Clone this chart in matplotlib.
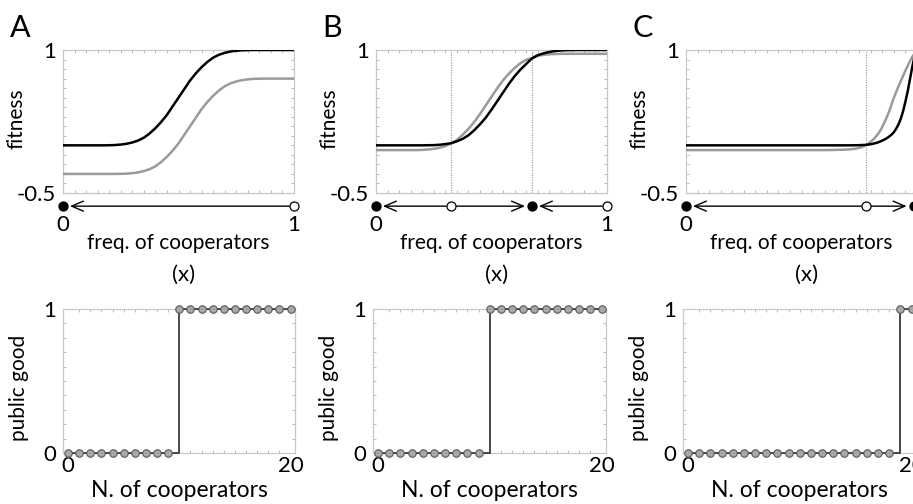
import matplotlib
matplotlib.use("Agg")
import matplotlib.pyplot as plt
from matplotlib.ticker import MultipleLocator, NullFormatter

plt.rcParams['font.family'] = ['Lato', 'DejaVu Sans']

# ---------------- data ----------------
x_grid = [0.0, 0.025, 0.05, 0.075, 0.1, 0.125, 0.15, 0.175, 0.2, 0.225,
          0.25, 0.275, 0.3, 0.325, 0.35, 0.375, 0.4, 0.425, 0.45, 0.475,
          0.5, 0.525, 0.55, 0.575, 0.6, 0.625, 0.65, 0.675, 0.7, 0.725,
          0.75, 0.775, 0.8, 0.825, 0.85, 0.875, 0.9, 0.925, 0.95, 0.975, 1.0]

fit_A_black = [0, 0, 0, 0, 0, 0, 0, 0, 0.001, 0.003,
               0.008, 0.016, 0.03, 0.05, 0.08, 0.125, 0.18, 0.245, 0.32, 0.41,
               0.5, 0.59, 0.68, 0.755, 0.82, 0.875, 0.92, 0.95, 0.97, 0.984,
               0.992, 0.997, 0.999, 1, 1, 1, 1, 1, 1, 1, 1]
fit_A_gray = [-0.3, -0.3, -0.3, -0.3, -0.3, -0.3, -0.3, -0.3, -0.3, -0.3,
              -0.299, -0.297, -0.292, -0.284, -0.27, -0.25, -0.22, -0.175, -0.12, -0.055,
              0.02, 0.11, 0.2, 0.29, 0.38, 0.455, 0.52, 0.575, 0.62, 0.65,
              0.67, 0.684, 0.692, 0.697, 0.699, 0.7, 0.7, 0.7, 0.7, 0.7, 0.7]

fit_B_black = [0, 0, 0, 0, 0, 0, 0, 0, 0, 0.001,
               0.002, 0.006, 0.013, 0.022, 0.042, 0.068, 0.105, 0.158, 0.22, 0.29,
               0.374, 0.464, 0.554, 0.644, 0.725, 0.794, 0.853, 0.912, 0.945, 0.965,
               0.979, 0.989, 0.995, 0.998, 0.999, 1, 1, 1, 1, 1, 1]
fit_B_gray = [-0.05, -0.05, -0.05, -0.05, -0.05, -0.05, -0.05, -0.05, -0.048, -0.044,
              -0.037, -0.026, -0.008, 0.022, 0.056, 0.11, 0.172, 0.243, 0.328, 0.419,
              0.51, 0.6, 0.682, 0.752, 0.812, 0.861, 0.897, 0.914, 0.939, 0.949,
              0.955, 0.958, 0.96, 0.96, 0.96, 0.96, 0.96, 0.96, 0.96, 0.96, 0.96]

x_C = [0.0, 0.1, 0.2, 0.3, 0.4, 0.5, 0.6, 0.65, 0.7, 0.72, 0.74, 0.76, 0.78, 0.79,
       0.8, 0.81, 0.82, 0.83, 0.84, 0.85, 0.86, 0.87, 0.88, 0.89,
       0.9, 0.91, 0.92, 0.93, 0.94, 0.95, 0.96, 0.97, 0.98, 0.99, 1.0]
fit_C_black = [0, 0, 0, 0, 0, 0, 0, 0, 0, 0.0005, 0.001, 0.003, 0.005, 0.008,
               0.012, 0.017, 0.023, 0.03, 0.039, 0.05, 0.062, 0.076, 0.093, 0.113,
               0.138, 0.175, 0.22, 0.28, 0.36, 0.46, 0.57, 0.7, 0.83, 0.94, 1.0]
fit_C_gray = [-0.05, -0.05, -0.05, -0.05, -0.05, -0.05, -0.05, -0.048, -0.044, -0.04, -0.033, -0.02, 0.005, 0.02,
              0.04, 0.06, 0.085, 0.115, 0.15, 0.195, 0.245, 0.3, 0.36, 0.43,
              0.5, 0.56, 0.62, 0.675, 0.73, 0.785, 0.835, 0.885, 0.93, 0.965, 0.99]

# equilibria: (position, stable?)
eq_A = [(0.0, True), (1.0, False)]
eq_B = [(0.0, True), (0.325, False), (0.675, True), (1.0, False)]
eq_C = [(0.0, True), (0.78, False), (0.985, True)]
# arrows: (from, to)
arr_A = [(1.0, 0.0)]
arr_B = [(0.325, 0.0), (0.325, 0.675), (1.0, 0.675)]
arr_C = [(0.78, 0.0), (0.78, 0.985)]
dotted_B = [0.325, 0.675]
dotted_C = [0.78, 0.985]

n_coop = list(range(21))
good_A = [0, 0, 0, 0, 0, 0, 0, 0, 0, 0, 1, 1, 1, 1, 1, 1, 1, 1, 1, 1, 1]
good_B = [0, 0, 0, 0, 0, 0, 0, 0, 0, 0, 1, 1, 1, 1, 1, 1, 1, 1, 1, 1, 1]
good_C = [0, 0, 0, 0, 0, 0, 0, 0, 0, 0, 0, 0, 0, 0, 0, 0, 0, 0, 0, 1, 1]

panel_letters = ['A', 'B', 'C']
top_xticklabels = [['0', '1'], ['0', '1'], ['0', '']]

# ---------------- figure ----------------
W, H = 913, 504
fig = plt.figure(figsize=(W / 100, H / 100), dpi=100)

FS = 15
TFS = 16
frame_col = '#c8c8c8'


def px_axes(x0, y0, x1, y1):
    return fig.add_axes([x0 / W, 1 - y1 / H, (x1 - x0) / W, (y1 - y0) / H])


def style(ax, xminor, yminor):
    for s in ax.spines.values():
        s.set_color(frame_col)
        s.set_linewidth(0.9)
    ax.xaxis.set_minor_locator(MultipleLocator(xminor))
    ax.yaxis.set_minor_locator(MultipleLocator(yminor))
    ax.xaxis.set_minor_formatter(NullFormatter())
    ax.yaxis.set_minor_formatter(NullFormatter())
    ax.tick_params(which='minor', direction='in', length=2.5, width=0.6,
                   color='#b0b0b0', top=True, right=True)
    ax.tick_params(which='major', length=0, labelsize=TFS)


top_pos = [(63, 50, 294, 193), (376, 50, 607, 193), (686, 50, 917, 193)]
bot_pos = [(63, 309, 295, 453), (373, 309, 606, 453), (683, 309, 916, 453)]
letter_x = [10, 322, 632]

tops = [(x_grid, fit_A_black, fit_A_gray, eq_A, arr_A, []),
        (x_grid, fit_B_black, fit_B_gray, eq_B, arr_B, dotted_B),
        (x_C, fit_C_black, fit_C_gray, eq_C, arr_C, dotted_C)]
bots = [good_A, good_B, good_C]

y_arrow = -0.092

for i in range(3):
    xs, yb, yg, eqs, arrs, dots = tops[i]
    ax = px_axes(*top_pos[i])
    style(ax, 0.05, 0.1)
    ax.set_xlim(0, 1)
    ax.set_ylim(-0.5, 1.0)
    for d in dots:
        ax.axvline(d, color='#a0a0a0', lw=0.9, ls=(0, (1, 1)), zorder=1)
    ax.plot(xs, yg, color='#9a9a9a', lw=1.8, zorder=3)
    ax.plot(xs, yb, color='black', lw=1.8, zorder=4)
    ax.set_yticks([-0.5, 1.0])
    ax.set_yticklabels(['-0.5', '1'])
    ax.set_xticks([0, 1])
    ax.set_xticklabels(top_xticklabels[i])
    ax.tick_params(axis='y', pad=5)
    ax.tick_params(axis='x', pad=16)
    tr = ax.get_xaxis_transform()
    for (a, b) in arrs:
        ax.annotate('', xy=(b, y_arrow), xycoords=tr, xytext=(a, y_arrow), textcoords=tr,
                    arrowprops=dict(arrowstyle='->,head_length=0.7,head_width=0.3',
                                    color='black', lw=1.0, shrinkA=3.5, shrinkB=5,
                                    mutation_scale=12),
                    annotation_clip=False)
    for (p, stable) in eqs:
        ax.plot([p], [y_arrow], 'o', transform=tr, clip_on=False, ms=6.5,
                mfc='black' if stable else 'white', mec='black', mew=0.9, zorder=6)
    ax.text(0.5, -0.35, 'freq. of cooperators', transform=ax.transAxes,
            ha='center', va='center', fontsize=FS)
    ax.text(0.52, -0.575, '(x)', transform=ax.transAxes,
            ha='center', va='center', fontsize=16)
    ax.text(-0.2, 0.52, 'fitness', transform=ax.transAxes, rotation=90,
            ha='center', va='center', fontsize=FS)
    fig.text(letter_x[i] / W, 1 - 37 / H, panel_letters[i], fontsize=22,
             ha='left', va='baseline')

    # bottom panel
    bx = px_axes(*bot_pos[i])
    style(bx, 1, 0.1)
    bx.set_xlim(-0.45, 20.4)
    bx.set_ylim(0, 1)
    bx.plot(n_coop, bots[i], drawstyle='steps-post', color='#3a3a3a', lw=1.3,
            clip_on=False, zorder=3)
    bx.plot(n_coop, bots[i], 'o', ms=5.4, mfc='#a8a8a8', mec='#5a5a5a', mew=0.8,
            clip_on=False, zorder=4)
    bx.set_yticks([0, 1])
    bx.set_yticklabels(['0', '1'])
    bx.set_xticks([0, 20])
    bx.set_xticklabels(['0', '20'])
    bx.tick_params(axis='y', pad=5)
    bx.tick_params(axis='x', pad=2)
    bx.text(0.5, -0.257, 'N. of cooperators', transform=bx.transAxes,
            ha='center', va='center', fontsize=16.5)
    bx.text(-0.19, 0.45, 'public good', transform=bx.transAxes, rotation=90,
            ha='center', va='center', fontsize=FS)

fig.savefig('out.png', dpi=100)
